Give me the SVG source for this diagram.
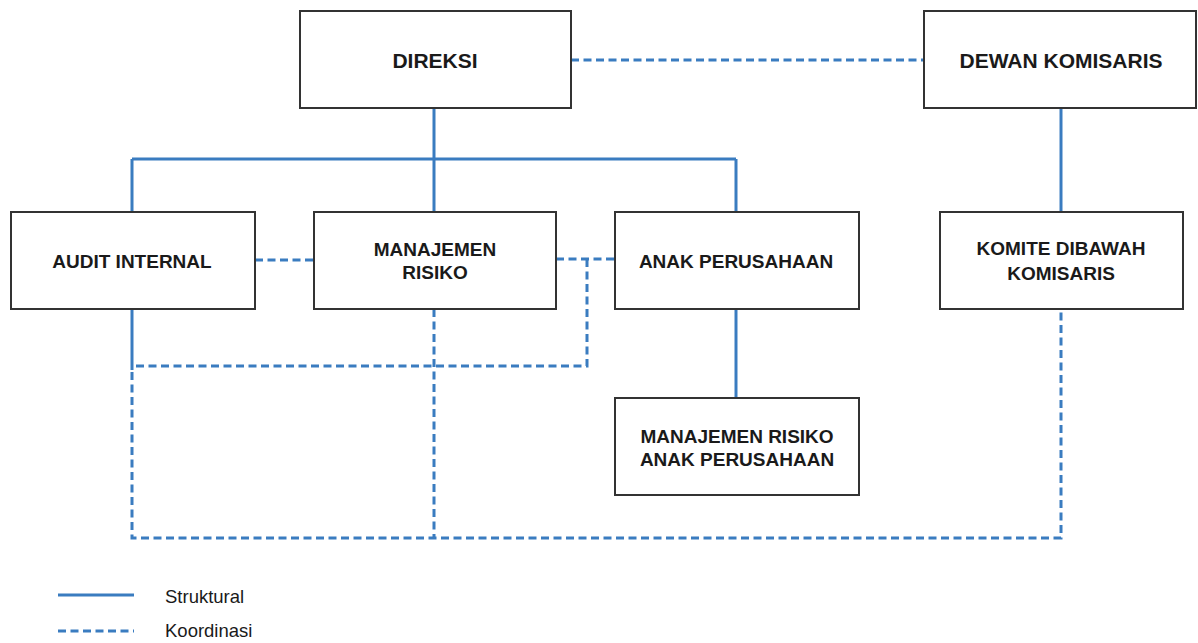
<svg xmlns="http://www.w3.org/2000/svg" width="1198" height="643" viewBox="0 0 1198 643">
  <style>
    .box { fill: #ffffff; stroke: #333333; stroke-width: 2; }
    .lbl { font-family: "Liberation Sans", Arial, sans-serif; font-weight: bold; fill: #1a1a1a; text-anchor: middle; }
    .big { font-size: 21px; }
    .mid { font-size: 19px; }
    .solid { fill: none; stroke: #3a7cc0; stroke-width: 3; }
    .dash { fill: none; stroke: #3a7cc0; stroke-width: 3; stroke-dasharray: 8 4.5; }
    .legend { font-family: "Liberation Sans", Arial, sans-serif; font-size: 18.5px; fill: #1a1a1a; }
  </style>

  <g id="connectors">
    <!-- structural lines -->
    <path class="solid" d="M434 108 V212 M132 159 H736 M132 159 V212 M736 159 V212"/>
    <path class="solid" d="M1061 108 V212"/>
    <path class="solid" d="M736 309 V398"/>
    <path class="solid" d="M132 309 V370"/>
    <!-- coordination lines -->
    <path class="dash" d="M571 60 H924"/>
    <path class="dash" d="M255 260 H314"/>
    <path class="dash" d="M556 259 H615"/>
    <path class="dash" d="M587 259 V366 H134"/>
    <path class="dash" d="M132 372 V538 H1061 V309"/>
    <path class="dash" d="M434 309 V538"/>
  </g>

  <g id="direksi">
    <rect class="box" x="300" y="11" width="271" height="97"/>
    <text class="lbl big" x="435" y="68">DIREKSI</text>
  </g>
  <g id="dewan-komisaris">
    <rect class="box" x="924" y="11" width="272" height="97"/>
    <text class="lbl big" x="1061" y="68">DEWAN KOMISARIS</text>
  </g>
  <g id="audit-internal">
    <rect class="box" x="11" y="212" width="244" height="97"/>
    <text class="lbl mid" x="132" y="268">AUDIT INTERNAL</text>
  </g>
  <g id="manajemen-risiko">
    <rect class="box" x="314" y="212" width="242" height="97"/>
    <text class="lbl mid" x="435" y="256">MANAJEMEN</text>
    <text class="lbl mid" x="435" y="279">RISIKO</text>
  </g>
  <g id="anak-perusahaan">
    <rect class="box" x="615" y="212" width="244" height="97"/>
    <text class="lbl mid" x="736" y="268">ANAK PERUSAHAAN</text>
  </g>
  <g id="komite">
    <rect class="box" x="940" y="212" width="243" height="97"/>
    <text class="lbl mid" x="1061" y="255">KOMITE DIBAWAH</text>
    <text class="lbl mid" x="1061" y="280">KOMISARIS</text>
  </g>
  <g id="manajemen-risiko-anak">
    <rect class="box" x="615" y="398" width="244" height="97"/>
    <text class="lbl mid" x="737" y="443">MANAJEMEN RISIKO</text>
    <text class="lbl mid" x="737" y="466">ANAK PERUSAHAAN</text>
  </g>

  <g id="legend">
    <path class="solid" d="M58 595 H134"/>
    <path class="dash" d="M58 631 H134"/>
    <text class="legend" x="165" y="603">Struktural</text>
    <text class="legend" x="165" y="637">Koordinasi</text>
  </g>
</svg>
